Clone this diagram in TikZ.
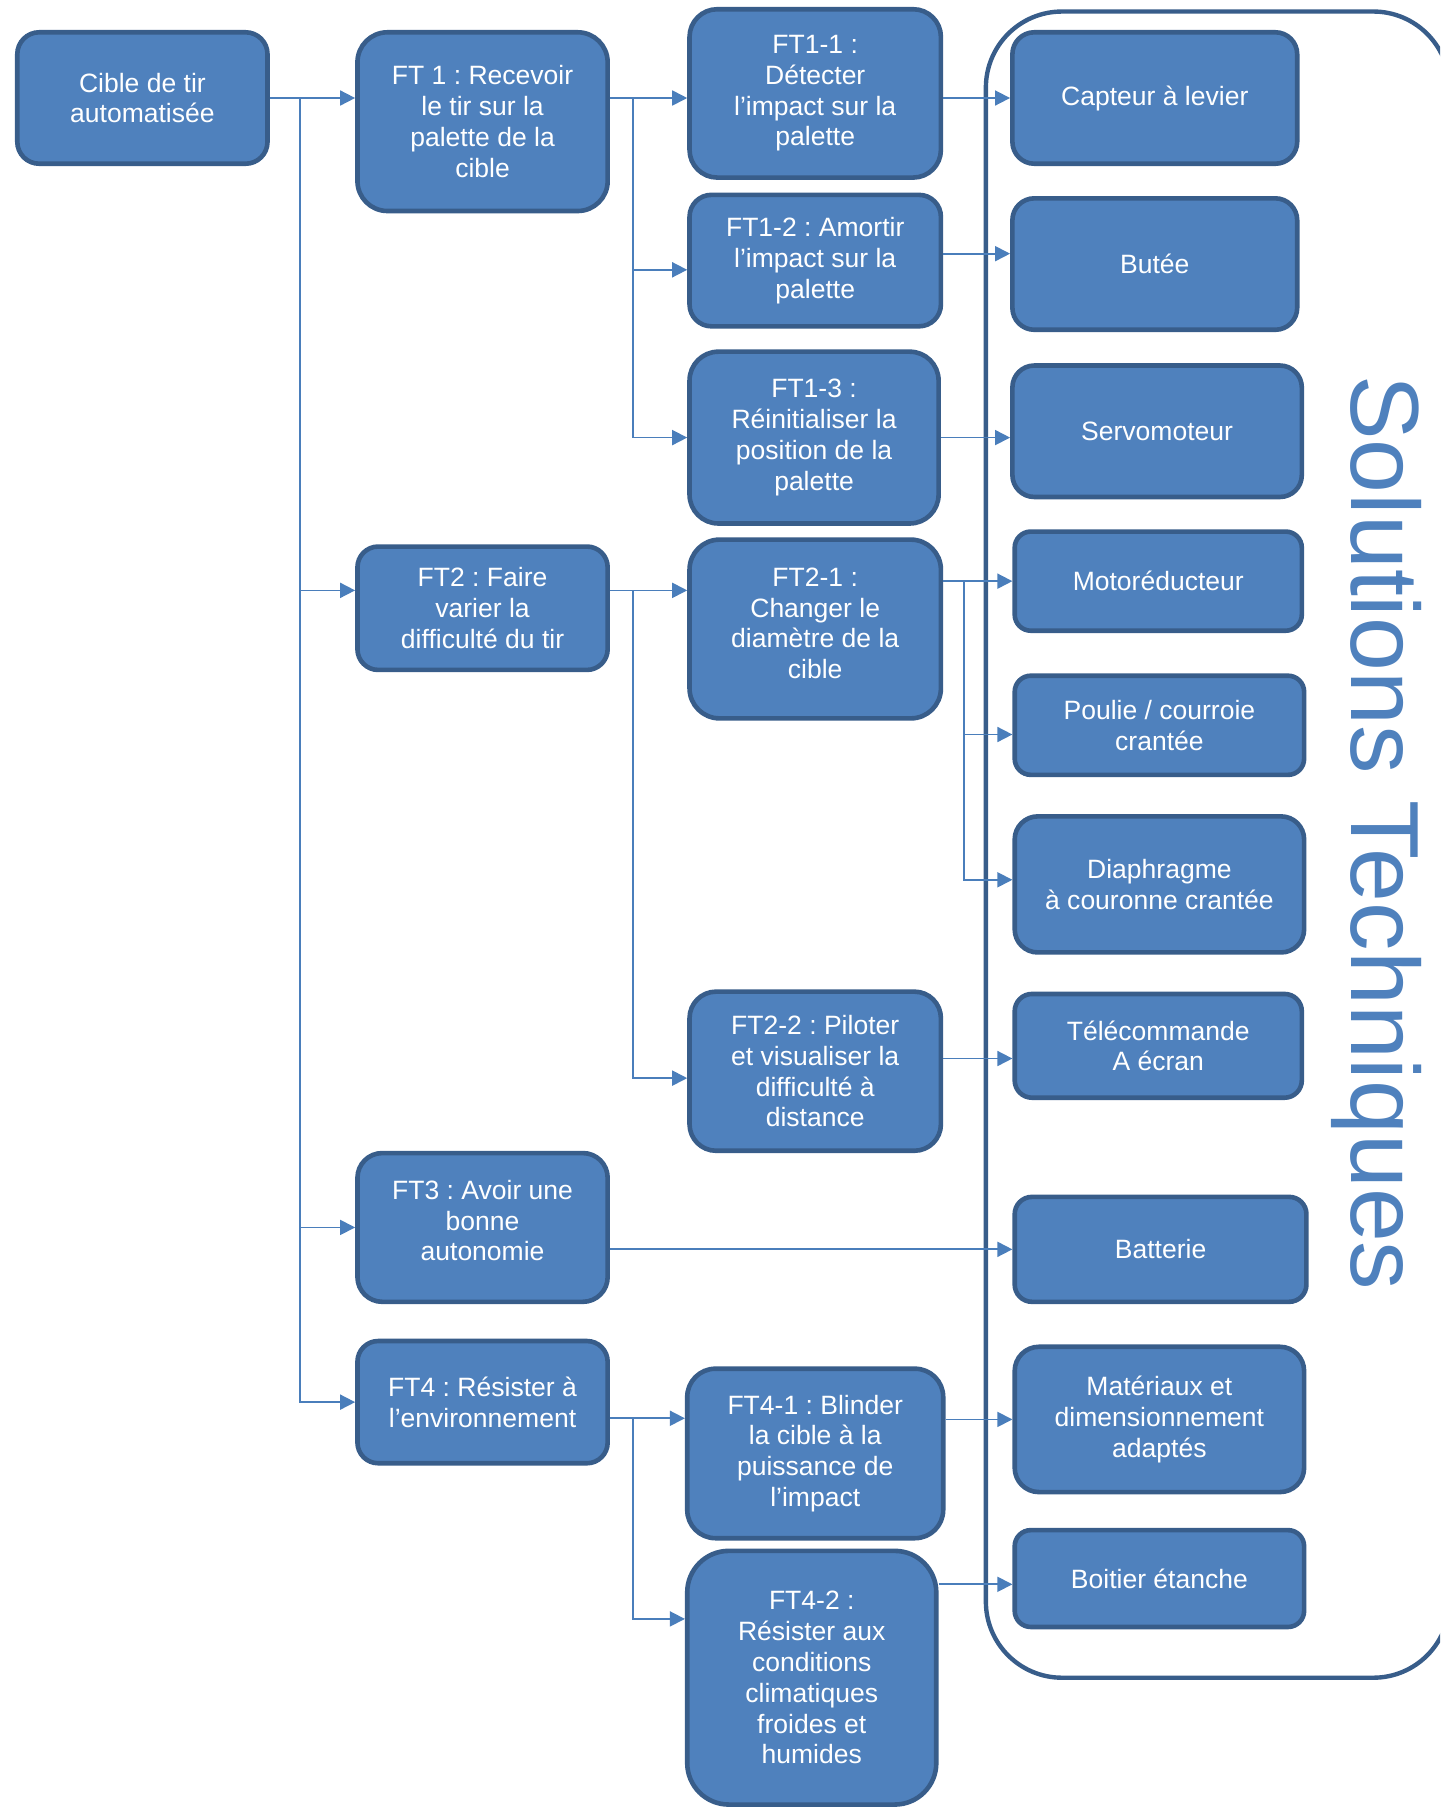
\documentclass[tikz,border=0pt]{standalone}
\usepackage{fontspec}
\setmainfont{Liberation Sans}
\usetikzlibrary{arrows.meta}
\definecolor{bfill}{HTML}{4F81BD}
\definecolor{bdraw}{HTML}{385D8A}
\definecolor{lnc}{HTML}{4A7EBB}
\frenchspacing
\tikzset{
  box/.style={draw=bdraw, fill=bfill, line width=2pt, text=white, align=center,
    font=\fontsize{11.5pt}{13.35pt}\selectfont\frenchspacing, inner sep=0pt},
  conn/.style={draw=lnc, line width=0.75pt},
  arr/.style={conn, -{Triangle[length=6.5pt,width=6.5pt]}},
  framebox/.style={draw=bdraw, line width=1.9pt, inner sep=0pt},
}
\newcommand\mkbox[7]{\node[box, rounded corners=#6, minimum width={(#4-#2)*0.5pt}, minimum height={(#5-#3)*0.5pt}] (#1) at ({(#2+#4)/2},{(#3+#5)/2}) {#7};}
\begin{document}
\begin{tikzpicture}[x=0.5pt,y=-0.5pt]
\useasboundingbox (0,0) rectangle (1249,1568);
\clip (0,0) rectangle (1249,1568);
\fill[white] (0,0) rectangle (1249,1568);
% frame
\node[framebox, rounded corners=33pt, minimum width={402*0.5pt}, minimum height={1445*0.5pt}] (frame) at (1056,732.5) {};
% column 1 and 2
\mkbox{cible}{15}{28}{232}{142}{9.5pt}{Cible de tir\\automatisée}
\mkbox{ft1}{310}{28}{527}{183}{13pt}{FT 1 : Recevoir\\le tir sur la\\palette de la\\cible}
\mkbox{ft2}{310}{474}{527}{581}{9pt}{FT2 : Faire\\varier la\\difficulté du tir}
\mkbox{ft3}{310}{1000}{527}{1129}{10.75pt}{FT3 : Avoir une\\bonne\\autonomie\rule[-6pt]{0pt}{6pt}}
\mkbox{ft4}{310}{1163}{527}{1269}{9pt}{FT4 : Résister à\\l’environnement}
% column 3
\mkbox{ft11}{598}{8}{816}{154}{12pt}{FT1-1 :\\Détecter\\l’impact sur la\\palette}
\mkbox{ft12}{598}{169}{816}{283}{9.5pt}{FT1-2 : Amortir\\l’impact sur la\\palette}
\mkbox{ft13}{598}{305}{814}{454}{12.5pt}{FT1-3 :\\Réinitialiser la\\position de la\\palette}
\mkbox{ft21}{598}{468}{816}{623}{13pt}{FT2-1 :\\Changer le\\diamètre de la\\cible\rule[-5pt]{0pt}{5pt}}
\mkbox{ft22}{598}{860}{816}{998}{11.5pt}{FT2-2 : Piloter\\et visualiser la\\difficulté à\\distance}
\mkbox{ft41}{596}{1187}{818}{1334}{12.25pt}{FT4-1 : Blinder\\la cible à la\\puissance de\\l’impact}
\mkbox{ft42}{596}{1345}{812}{1565}{18pt}{FT4-2 :\\Résister aux\\conditions\\climatiques\\froides et\\humides}
% column 4
\mkbox{caps}{878}{28}{1125}{142}{9.5pt}{Capteur à levier}
\mkbox{butee}{878}{172}{1125}{286}{9.5pt}{Butée}
\mkbox{servo}{878}{317}{1129}{431}{9.5pt}{Servomoteur}
\mkbox{moto}{880}{461}{1129}{547}{7pt}{Motoréducteur}
\mkbox{poulie}{880}{586}{1131}{672}{7pt}{Poulie / courroie\\crantée}
\mkbox{diaph}{880}{708}{1131}{826}{10pt}{Diaphragme\\à couronne crantée}
\mkbox{tele}{880}{862}{1129}{952}{7.5pt}{Télécommande\\A écran}
\mkbox{batt}{880}{1038}{1133}{1129}{7.5pt}{Batterie}
\mkbox{mat}{880}{1168}{1131}{1294}{10.5pt}{Matériaux et\\dimensionnement\\adaptés}
\mkbox{boit}{880}{1327}{1131}{1411}{7pt}{Boitier étanche}
% junctions
\coordinate (j1) at (260,85);
\coordinate (j2) at (549,85);
\coordinate (j3) at (549,512);
\coordinate (j4) at (549,1230);
\coordinate (j5) at (836,504);
% connectors from the root
\draw[arr] (cible.east) -- (cible.east -| ft1.west);
\draw[arr] (j1) |- ([yshift=7.75pt]ft2.west);
\draw[arr] (j1) |- (ft3.west);
\draw[arr] (j1) |- (ft4.west);
% FT1
\draw[arr] ([yshift=10.25pt]ft1.east) -- (j2 -| ft11.west);
\draw[arr] (j2) |- ([yshift=-4pt]ft12.west);
\draw[arr] (j2) |- (ft13.west);
% FT2
\draw[arr] ([yshift=7.75pt]ft2.east) -- (j3 -| ft21.west);
\draw[arr] (j3) |- ([yshift=-3pt]ft22.west);
% FT3
\draw[arr] (ft3.east |- batt.west) -- (batt.west);
% FT4
\draw[arr] ([yshift=-7pt]ft4.east) -- (j4 -| ft41.west);
\draw[arr] (j4) |- ([yshift=25.5pt]ft42.west);
% to solutions
\draw[arr] (caps.west -| ft11.east) -- (caps.west);
\coordinate (bt) at ([yshift=4.5pt]butee.west);
\draw[arr] (bt -| ft12.east) -- (bt);
\draw[arr] (ft13.east) -- (ft13.east -| servo.west);
\draw[arr] (moto.west -| ft21.east) -- (moto.west);
\draw[arr] (j5) |- ([yshift=-4pt]poulie.west);
\draw[arr] (j5) |- ([yshift=2pt]diaph.west);
\coordinate (tt) at ([yshift=-5.5pt]tele.west);
\draw[arr] (tt -| ft22.east) -- (tt);
\draw[arr] (mat.west -| ft41.east) -- (mat.west);
\coordinate (bo) at ([yshift=-2.5pt]boit.west);
\draw[arr] (bo -| ft42.east) -- (bo);
% title
\node[rotate=-90, anchor=base west, text=bfill, inner sep=0pt,
  font=\fontsize{42pt}{50pt}\selectfont] (soltitle) at (1172,325) {Solutions Techniques};
\end{tikzpicture}
\end{document}
